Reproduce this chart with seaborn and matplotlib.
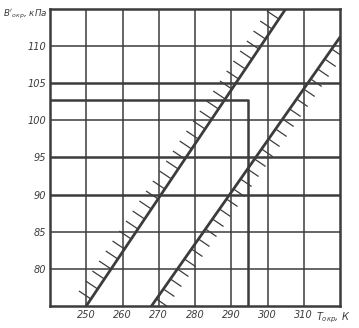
import numpy as np
import pandas as pd
import matplotlib
matplotlib.use("Agg")
import matplotlib.pyplot as plt
from matplotlib.collections import LineCollection
import seaborn as sns

# ---- data ----
x_ticks = [250, 260, 270, 280, 290, 300, 310]
y_ticks = [80, 85, 90, 95, 100, 105, 110]
upper_T = [250, 305]          # boundary line 1 (hatched on upper-left side)
upper_P = [75, 115]
lower_T = [268, 320]          # boundary line 2 (hatched on lower-right side)
lower_P = [75, 111.2]
guide_T = [240, 294.5, 294.5]  # indicator line
guide_P = [102.7, 102.7, 75]

sns.set_style("white")
plt.rcParams['font.family'] = ['DejaVu Sans']
C = "#3c3c3c"

W, H = 359, 328
AX_L, AX_B, AX_W, AX_H = 50, 22, 290, 297
XMIN, XMAX, YMIN, YMAX = 240, 320, 75, 115

fig = plt.figure(figsize=(W / 100, H / 100), dpi=100)
ax = fig.add_axes([AX_L / W, AX_B / H, AX_W / W, AX_H / H])

# grid
for x in x_ticks:
    ax.axvline(x, color=C, lw=1.1, zorder=1)
for y in y_ticks:
    lw = 1.8 if y in (90, 95, 105) else 1.1
    ax.axhline(y, color=C, lw=lw, zorder=1)

df1 = pd.DataFrame({"T": upper_T, "P": upper_P})
df2 = pd.DataFrame({"T": lower_T, "P": lower_P})
sns.lineplot(data=df1, x="T", y="P", ax=ax, color=C, lw=2.0, zorder=3)
sns.lineplot(data=df2, x="T", y="P", ax=ax, color=C, lw=2.0, zorder=3)
ax.plot(guide_T, guide_P, color=C, lw=1.8, zorder=2, solid_joinstyle='round')

# hatching: short strokes on one side of each boundary line
sx = AX_W / (XMAX - XMIN)   # px per K
sy = AX_H / (YMAX - YMIN)   # px per kPa
def hatch(T, P, off, step_px):
    p0 = np.array([T[0] * sx, P[0] * sy])
    p1 = np.array([T[1] * sx, P[1] * sy])
    d = p1 - p0
    n = int(d[1] // step_px)
    segs = []
    for i in range(1, n + 1):
        pt = p0 + d * (i * step_px - 3) / d[1]
        tip = pt + np.array(off)
        a = (pt[0] / sx, pt[1] / sy)
        b = (tip[0] / sx, tip[1] / sy)
        if a[1] > YMAX - 0.3 or a[0] > XMAX - 0.3:
            continue
        segs.append([a, b])
    ax.add_collection(LineCollection(segs, colors=C, linewidths=0.9, zorder=3))

hatch(upper_T, upper_P, (-12, 8), 10)
hatch(lower_T, lower_P, (11, -7.5), 10)

ax.set_xlim(XMIN, XMAX)
ax.set_ylim(YMIN, YMAX)

for s in ax.spines.values():
    s.set_color(C)
    s.set_linewidth(1.8)

ax.set_xticks(x_ticks)
ax.set_yticks(y_ticks)
ax.set_xticklabels([str(v) for v in x_ticks], fontsize=7, style='italic', color=C)
ax.set_yticklabels([str(v) for v in y_ticks], fontsize=7, style='italic', color=C)
ax.tick_params(length=0, pad=3)
ax.set_xlabel("")
ax.set_ylabel("")

ax.text(-0.008, 0.98, "$B'_{окр}$, кПа", transform=ax.transAxes, ha='right', va='center',
        fontsize=6.3, style='italic', color=C)
ax.text(318, 75, "$T_{окр}$, К", ha='center', va='top', fontsize=7, style='italic', color=C,
        transform=matplotlib.transforms.offset_copy(ax.transData, fig=fig, x=0, y=-3, units='points'))

fig.savefig("out.png", dpi=100)
